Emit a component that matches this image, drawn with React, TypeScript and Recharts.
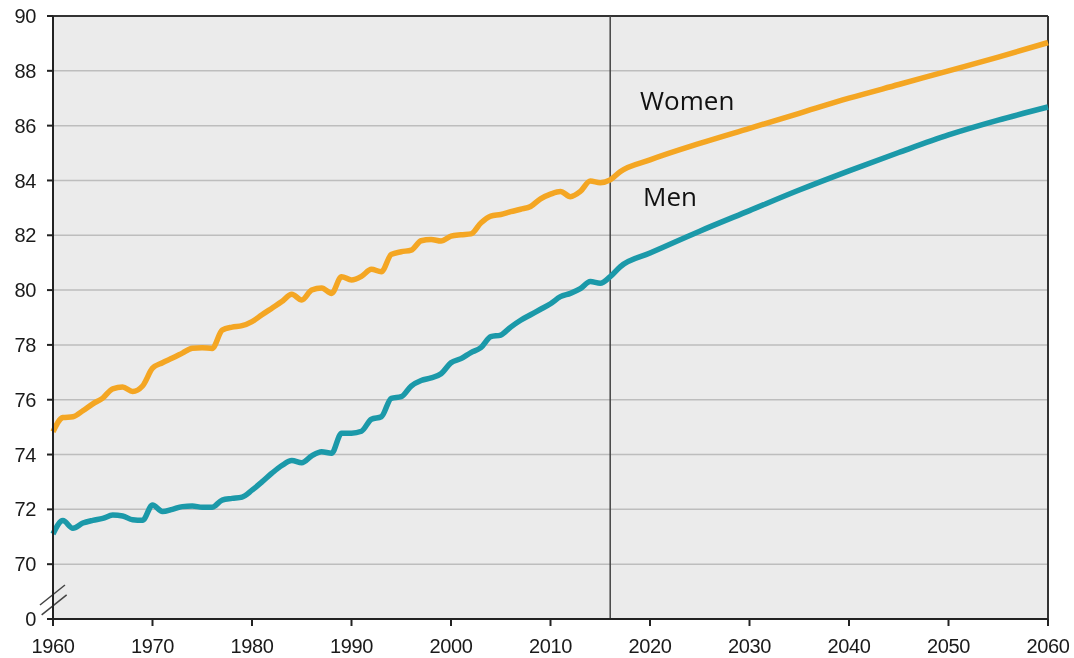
import React from 'react';
import {
  LineChart, Line, XAxis, YAxis, CartesianGrid, ReferenceLine, ReferenceDot
} from 'recharts';

// observed 1960-2016, projections afterwards
const years = [
  1960, 1961, 1962, 1963, 1964, 1965, 1966, 1967, 1968, 1969,
  1970, 1971, 1972, 1973, 1974, 1975, 1976, 1977, 1978, 1979,
  1980, 1981, 1982, 1983, 1984, 1985, 1986, 1987, 1988, 1989,
  1990, 1991, 1992, 1993, 1994, 1995, 1996, 1997, 1998, 1999,
  2000, 2001, 2002, 2003, 2004, 2005, 2006, 2007, 2008, 2009,
  2010, 2011, 2012, 2013, 2014, 2015, 2016, 2017,
  2020, 2025, 2030, 2035, 2040, 2045, 2050, 2055, 2060,
];

const women = [
  74.83, 75.35, 75.38, 75.6, 75.85, 76.06, 76.4, 76.46, 76.3, 76.5,
  77.15, 77.35, 77.52, 77.7, 77.88, 77.9, 77.87, 78.54, 78.65, 78.7,
  78.85, 79.1, 79.34, 79.58, 79.85, 79.64, 80.0, 80.08, 79.88, 80.49,
  80.37, 80.5, 80.76, 80.67, 81.3, 81.4, 81.46, 81.8, 81.85, 81.79,
  81.97, 82.02, 82.05, 82.45, 82.7, 82.76, 82.86, 82.95, 83.05, 83.33,
  83.5, 83.6, 83.41, 83.6, 83.98, 83.92, 84.02, 84.32,
  84.75, 85.35, 85.9, 86.45, 87.0, 87.5, 88.0, 88.5, 89.03,
];

const men = [
  71.1, 71.59, 71.31, 71.5, 71.6, 71.67, 71.79, 71.76, 71.62, 71.6,
  72.16, 71.92, 72.0, 72.1, 72.12, 72.08, 72.08, 72.34, 72.4, 72.45,
  72.7, 73.0, 73.32, 73.6, 73.78, 73.7, 73.95, 74.1, 74.05, 74.78,
  74.78, 74.85, 75.29, 75.38, 76.05, 76.11, 76.5, 76.7, 76.8, 76.95,
  77.35, 77.5, 77.72, 77.9, 78.3, 78.36, 78.65, 78.9, 79.1, 79.3,
  79.5, 79.76, 79.88, 80.05, 80.31, 80.25, 80.49, 80.85,
  81.35, 82.15, 82.9, 83.65, 84.35, 85.02, 85.66, 86.2, 86.68,
];

const xTicks = [1960, 1970, 1980, 1990, 2000, 2010, 2020, 2030, 2040, 2050, 2060];
// 68 stands in for the broken-axis "0"
const yTicks = [68, 70, 72, 74, 76, 78, 80, 82, 84, 86, 88, 90];

const data = years.map((year, i) => ({ year, women: women[i], men: men[i] }));

const tickStyle = {
  fontFamily: 'Liberation Sans, Arial, sans-serif', fontSize: 20, fill: '#1a1a1a', letterSpacing: -0.4,
};
const labelStyle = { fontFamily: 'Open Sans, sans-serif', fontSize: 26, fill: '#111' };

export default function App() {
  return (
    <div style={{ position: 'fixed', left: 0, top: 0, width: 1074, height: 658 }}>
      <LineChart width={1074} height={658} data={data}
        margin={{ top: 16, right: 26, bottom: 5, left: 8 }}>
        <CartesianGrid vertical={false} fill="#EBEBEB" stroke="#BDBDBD" strokeWidth={1.5} />
        <XAxis dataKey="year" type="number" domain={[1960, 2060]} ticks={xTicks}
          tick={tickStyle} tickSize={7} tickMargin={13} height={34} interval={0}
          axisLine={{ stroke: '#222', strokeWidth: 2 }} tickLine={{ stroke: '#222', strokeWidth: 2 }} />
        <YAxis type="number" domain={[68, 90]} ticks={yTicks} width={45} interval={0}
          tickFormatter={(v: number) => (v === 68 ? '0' : String(v))}
          tick={tickStyle} tickSize={6} tickMargin={11}
          axisLine={{ stroke: '#222', strokeWidth: 2 }} tickLine={{ stroke: '#222', strokeWidth: 2 }} />
        <ReferenceLine y={90} stroke="#333" strokeWidth={2} />
        <ReferenceLine x={2060} stroke="#333" strokeWidth={2} />
        <ReferenceLine x={2016} stroke="#444" strokeWidth={1.5} />
        <ReferenceLine segment={[{ x: 1958.69, y: 68.51 }, { x: 1961.2, y: 69.24 }]}
          stroke="#444" strokeWidth={1.5} ifOverflow="visible" />
        <ReferenceLine segment={[{ x: 1958.86, y: 68.15 }, { x: 1961.37, y: 68.88 }]}
          stroke="#444" strokeWidth={1.5} ifOverflow="visible" />
        <Line type="monotone" dataKey="women" stroke="#F4A623" strokeWidth={5.5}
          dot={false} isAnimationActive={false} strokeLinejoin="round" />
        <Line type="monotone" dataKey="men" stroke="#1B99A9" strokeWidth={5.5}
          dot={false} isAnimationActive={false} strokeLinejoin="round" />
        <ReferenceDot x={2018.5} y={86.92} r={0} fill="none" stroke="none"
          label={{ value: 'Women', position: 'right', ...labelStyle }} />
        <ReferenceDot x={2018.8} y={83.42} r={0} fill="none" stroke="none"
          label={{ value: 'Men', position: 'right', ...labelStyle }} />
      </LineChart>
    </div>
  );
}
